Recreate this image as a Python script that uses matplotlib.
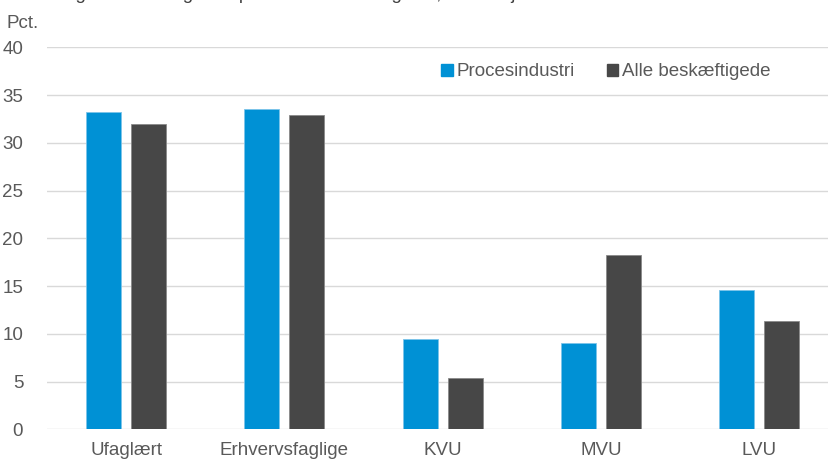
import numpy as np
import matplotlib
matplotlib.use("Agg")
import matplotlib.pyplot as plt
from matplotlib.patches import Patch

plt.rcParams['font.family'] = ['Liberation Sans', 'DejaVu Sans']

# Data
categories = ["Ufaglært", "Erhvervsfaglige", "KVU", "MVU", "LVU"]
procesindustri = [33.2, 33.5, 9.5, 9.0, 14.6]
alle_beskaeftigede = [32.0, 32.9, 5.4, 18.3, 11.3]
series_names = ["Procesindustri", "Alle beskæftigede"]

blue = "#0091D5"
dark = "#474747"
grey_text = "#595959"
grid_col = "#D9D9D9"


def main():
    fig = plt.figure(figsize=(8.29, 4.59), dpi=100)
    ax = fig.add_axes([0.0565, 0.0647, 0.955, 0.8323])

    x = np.arange(len(categories))
    width = 0.221
    offset = 0.142
    ax.bar(x - offset, procesindustri, width, color=blue,
           edgecolor="#7cc4ea", linewidth=0.6, zorder=3)
    ax.bar(x + offset, alle_beskaeftigede, width, color=dark,
           edgecolor="#8a8a8a", linewidth=0.6, zorder=3)

    ax.set_xlim(-0.5, len(categories) - 0.5)
    ax.set_ylim(0, 40)
    ax.set_yticks(range(0, 41, 5))
    ax.set_xticks(x)
    ax.set_xticklabels(categories)
    ax.grid(axis='y', color=grid_col, linewidth=1, zorder=0)
    for s in ax.spines.values():
        s.set_visible(False)
    ax.tick_params(length=0, labelsize=13.5, colors=grey_text)
    ax.tick_params(axis='y', pad=17)
    ax.tick_params(axis='x', pad=9)

    # Pct. label and (cropped) title
    fig.text(7 / 829, 1 - 28 / 459, "Pct.", fontsize=13.5, color=grey_text,
             ha='left', va='baseline')
    fig.text(8 / 829, 1 + 1 / 459,
             "Fordeling af beskæftigede i procesindustrien og i alt, "
             "efter højeste fuldførte uddannelse",
             fontsize=13.5, color="#404040", ha='left', va='baseline')

    handles = [Patch(color=blue), Patch(color=dark)]
    fig.legend(handles, series_names, loc='center left',
               bbox_to_anchor=(441 / 829, 1 - 72 / 459), ncol=2, frameon=False,
               fontsize=13.5, labelcolor=grey_text, handlelength=0.62,
               handleheight=0.62, handletextpad=0.2, columnspacing=1.7,
               borderpad=0, borderaxespad=0)

    fig.savefig("out.png", dpi=100)


if __name__ == "__main__":
    main()
